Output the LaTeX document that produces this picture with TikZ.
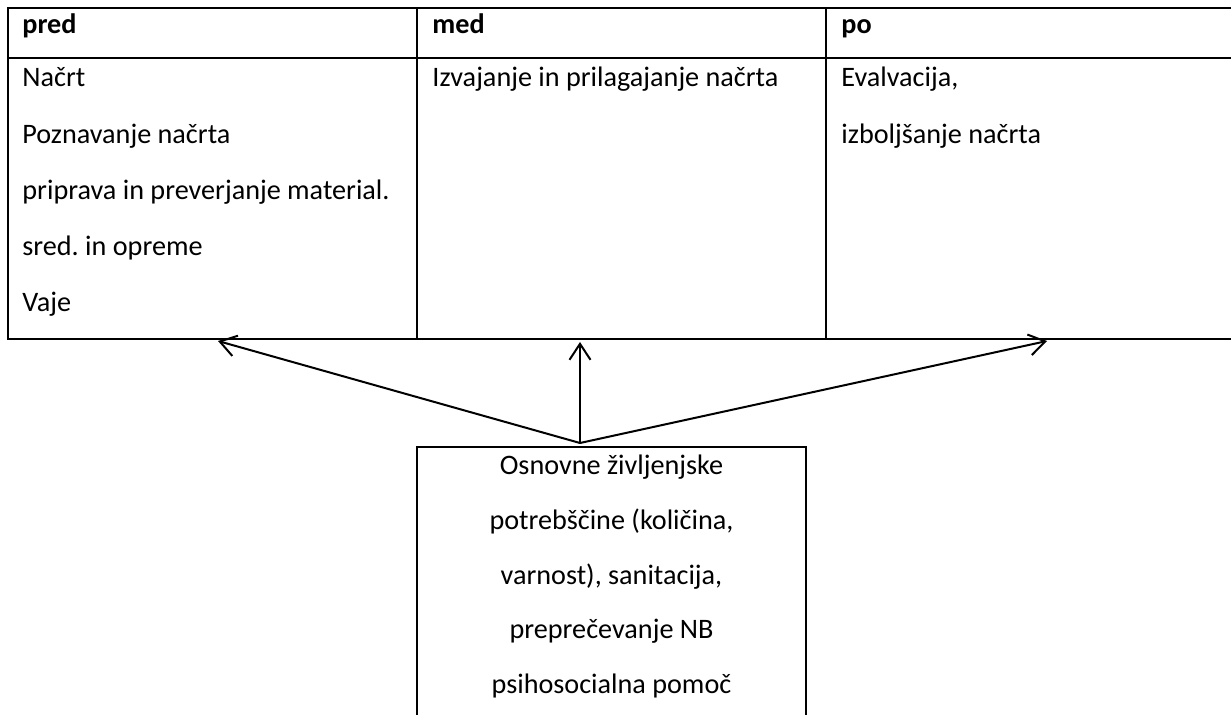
\documentclass[tikz,border=0pt]{standalone}
\usepackage{fontspec}
\setmainfont{Carlito}
\usetikzlibrary{arrows.meta}
\frenchspacing

\begin{document}
\begin{tikzpicture}[x=0.5pt,y=-0.5pt]
%% Styles
\tikzset{
  rule/.style={draw,line width=1pt},
  celltxt/.style={anchor=base west,inner sep=0pt,font=\fontsize{14.1}{17}\selectfont},
  headtxt/.style={celltxt,font=\fontsize{14.1}{17}\selectfont\bfseries},
  needtxt/.style={anchor=base,inner sep=0pt,font=\fontsize{14.1}{17}\selectfont},
  arr/.style={draw,line width=1pt,-{Straight Barb[length=8pt,width=10.5pt]}}
}
\useasboundingbox (0,0) rectangle (1231,715);
\clip (0,0) rectangle (1231,715);

%% Table
\path[rule] (8,8) rectangle (1250,339);
\path[rule] (8,58) -- (1250,58);
\path[rule] (417,8) -- (417,339);
\path[rule] (826,8) -- (826,339);

\foreach \x/\name in {22/pred, 432/med, 841/po}{
\node[headtxt] (\name) at (\x,34) {\name};
}

% Cells
\foreach \txt [count=\i] in {Načrt, Poznavanje načrta, priprava in preverjanje material., sred. in opreme, Vaje}{
\node[celltxt] (pred-\i) at (22,{30.75+56.25*\i}) {\txt};
}
\node[celltxt] (med-1) at (432,87) {Izvajanje in prilagajanje načrta};
\foreach \txt [count=\i] in {{Evalvacija,}, izboljšanje načrta}{
\node[celltxt] (po-\i) at (841,{30.75+56.25*\i}) {\txt};
}

%% Needs box
\path[rule] (417,447) rectangle (806,760);
\foreach \txt [count=\i] in {Osnovne življenjske, {potrebščine (količina,}, {varnost), sanitacija,}, preprečevanje NB, psihosocialna pomoč}{
\node[needtxt] (need-\i) at (611.5,{420.4+54.6*\i}) {\txt};
}

%% Arrows
\coordinate (src) at (580,443);
\coordinate (tipL) at (218,341);
\coordinate (tipM) at (580,342);
\coordinate (tipR) at (1047,341);
\foreach \t in {tipL,tipM,tipR}{
\path[arr] (src) -- (\t);
}

\end{tikzpicture}
\end{document}
